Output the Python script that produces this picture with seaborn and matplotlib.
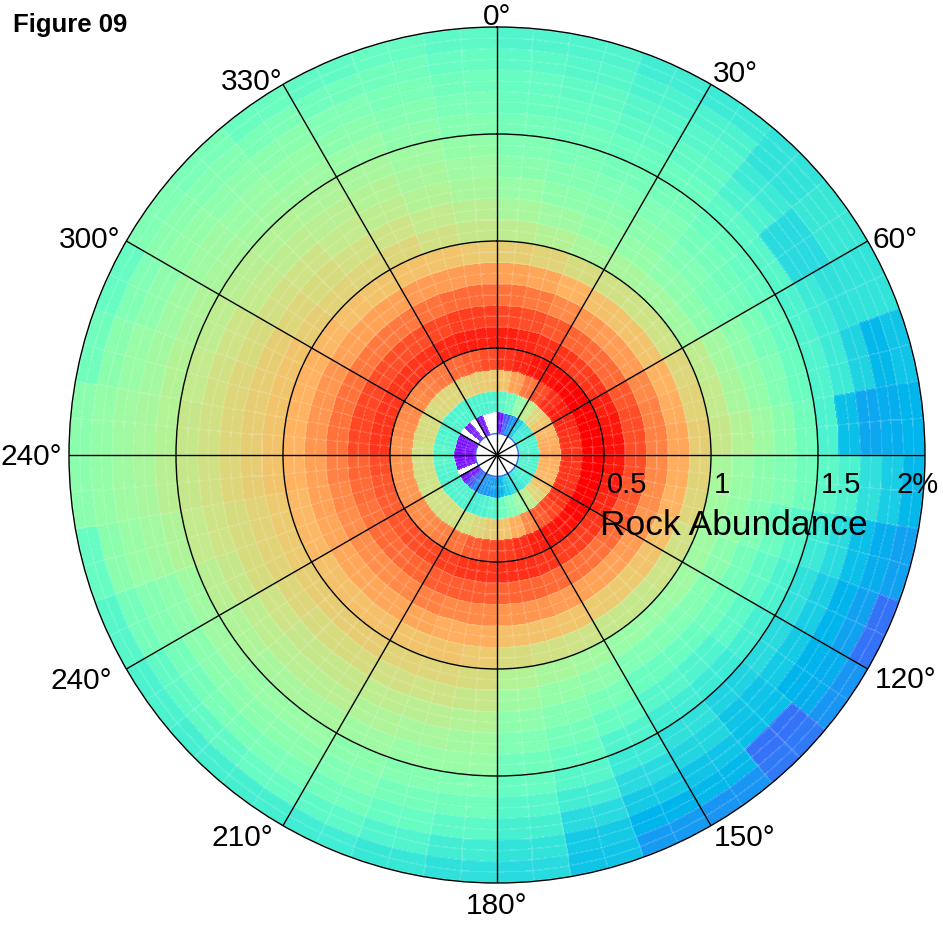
import numpy as np
import matplotlib
matplotlib.use("Agg")
import matplotlib.pyplot as plt
import seaborn as sns

nan = np.nan

# azimuth sectors (deg, clockwise from north) and rock abundance rings (%)
azimuth_edges = list(range(0, 361, 10))
abundance_edges = [round(0.1 * i, 1) for i in range(21)]

# relative frequency per cell, one list per 10 deg sector, rings 0-0.1 ... 1.9-2.0
sector_values = [
    [nan, 0.03, 0.42, 0.72, 0.93, 0.96, 0.91, 0.85, 0.78, 0.70, 0.62, 0.58, 0.55, 0.52, 0.50, 0.48, 0.46, 0.45, 0.43, 0.41],
    [nan, 0.12, 0.46, 0.78, 0.95, 0.95, 0.90, 0.84, 0.77, 0.69, 0.60, 0.56, 0.53, 0.51, 0.49, 0.47, 0.45, 0.44, 0.42, 0.41],
    [nan, 0.20, 0.55, 0.84, 0.97, 0.94, 0.89, 0.82, 0.75, 0.67, 0.58, 0.54, 0.52, 0.50, 0.48, 0.46, 0.44, 0.42, 0.40, 0.38],
    [nan, 0.30, 0.62, 0.90, 0.98, 0.93, 0.87, 0.80, 0.73, 0.66, 0.58, 0.54, 0.52, 0.50, 0.48, 0.46, 0.44, 0.42, 0.40, 0.37],
    [nan, 0.36, 0.68, 0.94, 0.99, 0.92, 0.86, 0.79, 0.72, 0.65, 0.57, 0.53, 0.50, 0.48, 0.46, 0.43, 0.40, 0.37, 0.35, 0.35],
    [nan, 0.38, 0.72, 0.96, 1.00, 0.93, 0.86, 0.79, 0.72, 0.65, 0.56, 0.52, 0.49, 0.47, 0.45, 0.42, 0.33, 0.33, 0.36, 0.36],
    [nan, 0.40, 0.74, 0.95, 1.00, 0.96, 0.89, 0.82, 0.75, 0.68, 0.62, 0.57, 0.53, 0.49, 0.45, 0.40, 0.37, 0.34, 0.35, 0.35],
    [nan, 0.40, 0.76, 0.94, 1.00, 0.97, 0.90, 0.83, 0.76, 0.69, 0.63, 0.58, 0.54, 0.50, 0.46, 0.41, 0.37, 0.31, 0.26, 0.28],
    [nan, 0.40, 0.77, 0.93, 1.00, 0.98, 0.90, 0.83, 0.77, 0.70, 0.64, 0.60, 0.56, 0.52, 0.47, 0.40, 0.27, 0.23, 0.24, 0.25],
    [nan, 0.40, 0.76, 0.93, 1.00, 0.97, 0.90, 0.82, 0.76, 0.69, 0.58, 0.55, 0.52, 0.50, 0.47, 0.43, 0.40, 0.34, 0.30, 0.26],
    [nan, 0.40, 0.75, 0.93, 1.00, 0.96, 0.89, 0.81, 0.75, 0.68, 0.57, 0.54, 0.50, 0.46, 0.42, 0.37, 0.33, 0.27, 0.24, 0.22],
    [nan, 0.40, 0.74, 0.94, 1.00, 0.95, 0.88, 0.80, 0.73, 0.66, 0.56, 0.52, 0.48, 0.44, 0.40, 0.34, 0.30, 0.25, 0.22, 0.15],
    [nan, 0.40, 0.72, 0.93, 0.99, 0.93, 0.86, 0.79, 0.72, 0.65, 0.56, 0.51, 0.47, 0.43, 0.39, 0.33, 0.29, 0.25, 0.24, 0.20],
    [nan, 0.38, 0.68, 0.91, 0.98, 0.92, 0.85, 0.78, 0.71, 0.64, 0.55, 0.50, 0.46, 0.41, 0.37, 0.31, 0.28, 0.27, 0.15, 0.16],
    [nan, 0.36, 0.62, 0.88, 0.97, 0.92, 0.85, 0.78, 0.71, 0.64, 0.55, 0.50, 0.46, 0.42, 0.38, 0.34, 0.32, 0.28, 0.26, 0.20],
    [nan, 0.33, 0.55, 0.82, 0.96, 0.93, 0.86, 0.79, 0.72, 0.65, 0.57, 0.53, 0.49, 0.45, 0.41, 0.37, 0.33, 0.29, 0.25, 0.21],
    [nan, 0.30, 0.50, 0.76, 0.94, 0.94, 0.87, 0.80, 0.73, 0.66, 0.58, 0.54, 0.51, 0.48, 0.45, 0.42, 0.38, 0.33, 0.29, 0.28],
    [nan, 0.25, 0.46, 0.72, 0.92, 0.94, 0.87, 0.80, 0.73, 0.67, 0.60, 0.56, 0.53, 0.50, 0.47, 0.45, 0.42, 0.39, 0.35, 0.33],
    [nan, 0.22, 0.42, 0.70, 0.90, 0.93, 0.88, 0.82, 0.76, 0.71, 0.67, 0.64, 0.60, 0.57, 0.55, 0.50, 0.47, 0.43, 0.38, 0.34],
    [nan, 0.20, 0.40, 0.68, 0.88, 0.93, 0.88, 0.82, 0.76, 0.72, 0.68, 0.65, 0.61, 0.58, 0.55, 0.51, 0.48, 0.45, 0.41, 0.36],
    [nan, 0.20, 0.38, 0.66, 0.85, 0.92, 0.88, 0.83, 0.77, 0.72, 0.69, 0.66, 0.62, 0.59, 0.56, 0.52, 0.50, 0.47, 0.43, 0.38],
    [nan, 0.18, 0.40, 0.66, 0.83, 0.91, 0.87, 0.82, 0.77, 0.73, 0.70, 0.67, 0.64, 0.61, 0.58, 0.55, 0.52, 0.49, 0.45, 0.39],
    [nan, 0.10, 0.40, 0.66, 0.82, 0.90, 0.86, 0.81, 0.77, 0.73, 0.70, 0.67, 0.64, 0.61, 0.58, 0.55, 0.52, 0.49, 0.44, 0.39],
    [nan, 0.03, 0.40, 0.65, 0.81, 0.89, 0.86, 0.81, 0.77, 0.73, 0.70, 0.68, 0.65, 0.62, 0.59, 0.56, 0.52, 0.48, 0.44, 0.40],
    [nan, nan, 0.40, 0.65, 0.80, 0.88, 0.85, 0.81, 0.77, 0.74, 0.71, 0.69, 0.67, 0.64, 0.61, 0.56, 0.53, 0.51, 0.48, 0.42],
    [nan, 0.02, 0.41, 0.66, 0.80, 0.89, 0.86, 0.82, 0.78, 0.74, 0.71, 0.69, 0.67, 0.65, 0.63, 0.59, 0.57, 0.55, 0.52, 0.45],
    [nan, 0.01, 0.42, 0.66, 0.80, 0.90, 0.87, 0.83, 0.78, 0.75, 0.72, 0.70, 0.68, 0.66, 0.64, 0.61, 0.58, 0.56, 0.54, 0.52],
    [nan, 0.01, 0.42, 0.66, 0.80, 0.93, 0.91, 0.85, 0.80, 0.75, 0.72, 0.70, 0.68, 0.66, 0.64, 0.60, 0.58, 0.56, 0.54, 0.52],
    [nan, 0.02, 0.41, 0.67, 0.81, 0.93, 0.91, 0.85, 0.80, 0.75, 0.72, 0.70, 0.68, 0.66, 0.63, 0.60, 0.57, 0.55, 0.52, 0.47],
    [nan, 0.02, 0.40, 0.67, 0.82, 0.93, 0.91, 0.85, 0.80, 0.75, 0.72, 0.70, 0.67, 0.65, 0.62, 0.59, 0.56, 0.53, 0.50, 0.45],
    [nan, nan, 0.40, 0.67, 0.82, 0.93, 0.90, 0.84, 0.78, 0.74, 0.70, 0.68, 0.66, 0.63, 0.61, 0.58, 0.56, 0.54, 0.52, 0.50],
    [nan, 0.03, 0.40, 0.68, 0.83, 0.93, 0.90, 0.84, 0.78, 0.73, 0.69, 0.67, 0.65, 0.62, 0.60, 0.57, 0.55, 0.53, 0.51, 0.49],
    [nan, nan, 0.40, 0.68, 0.84, 0.94, 0.90, 0.84, 0.78, 0.72, 0.68, 0.66, 0.63, 0.61, 0.59, 0.56, 0.54, 0.52, 0.49, 0.46],
    [nan, 0.03, 0.40, 0.69, 0.86, 0.95, 0.91, 0.85, 0.79, 0.73, 0.68, 0.65, 0.62, 0.60, 0.58, 0.55, 0.52, 0.50, 0.47, 0.44],
    [nan, nan, 0.40, 0.70, 0.88, 0.96, 0.92, 0.86, 0.79, 0.72, 0.66, 0.63, 0.60, 0.58, 0.56, 0.53, 0.51, 0.49, 0.47, 0.45],
    [nan, nan, 0.40, 0.71, 0.90, 0.96, 0.92, 0.86, 0.79, 0.71, 0.64, 0.61, 0.58, 0.56, 0.54, 0.51, 0.49, 0.47, 0.45, 0.43],
]

angle_ticks = [0, 30, 60, 120, 150, 180, 210, 240, 270, 300, 330]
angle_labels = ["0°", "30°", "60°", "120°", "150°", "180°", "210°", "240°", "240°", "300°", "330°"]
radius_ticks = [0.5, 1, 1.5, 2]
radius_labels = ["0.5", "1", "1.5", "2%"]

sns.set_style("white")
plt.rcParams["font.family"] = ["Liberation Sans", "DejaVu Sans"]
plt.rcParams["text.color"] = "black"

fig = plt.figure(figsize=(9.43, 9.25), dpi=100)
ax = fig.add_axes([69 / 943, 42 / 925, 856 / 943, 856 / 925], projection="polar")
ax.set_theta_zero_location("N")
ax.set_theta_direction(-1)
ax.set_axisbelow(False)

grid = np.array(sector_values).T  # rings x sectors
# split every cell in two each way so the arcs stay round (same values)
grid2 = np.repeat(np.repeat(grid, 2, axis=0), 2, axis=1)
th_edges = np.deg2rad(np.linspace(azimuth_edges[0], azimuth_edges[-1], 2 * (len(azimuth_edges) - 1) + 1))
r_edges = np.linspace(abundance_edges[0], abundance_edges[-1], 2 * (len(abundance_edges) - 1) + 1)

cmap = sns.color_palette("rainbow", as_cmap=True)
ax.pcolormesh(th_edges, r_edges, grid2, cmap=cmap, vmin=0, vmax=1, shading="flat",
              edgecolors=(1, 1, 1, 0.12), linewidth=0.3, zorder=1)

# thin blue rim around the empty core
core = np.linspace(0, 2 * np.pi, 200)
ax.plot(core, np.full_like(core, abundance_edges[1]), color="#3a6ef5", lw=1.0, zorder=1.2)

ax.set_ylim(0, 2)
ax.set_yticks(radius_ticks[:-1])
ax.set_yticklabels([])
ax.set_xticks(np.deg2rad(list(range(0, 360, 30))))
ax.set_xticklabels([])
ax.grid(True, color="black", linewidth=1.0)
ax.spines["polar"].set_color("black")
ax.spines["polar"].set_linewidth(1.0)

# angle labels around the rim (pixel nudges from the rim point)
label_nudge = {0: (0, 2, "center"), 30: (2, 2, "left"), 60: (5, -7, "left"),
               120: (7, -19, "left"), 150: (3, -20, "left"), 180: (0, -31, "center"),
               210: (-10, -20, "right"), 240: (-14, -20, "right"), 270: (-7, -10, "right"),
               300: (-6, -7, "right"), 330: (-1, -6, "right")}
for a, lab in zip(angle_ticks, angle_labels):
    dx, dy, ha = label_nudge[a]
    ax.annotate(lab, xy=(np.deg2rad(a), 2), xytext=(dx, dy), textcoords="offset pixels",
                ha=ha, va="baseline", fontsize=21.5, annotation_clip=False)

# radial labels along the east axis
for r, lab in zip(radius_ticks, radius_labels):
    if lab.endswith("%"):
        ax.annotate(lab, xy=(np.pi / 2, r), xytext=(14, -38), textcoords="offset pixels",
                    ha="right", va="baseline", fontsize=21, annotation_clip=False)
    else:
        ax.annotate(lab, xy=(np.pi / 2, r), xytext=(3, -38), textcoords="offset pixels",
                    ha="left", va="baseline", fontsize=21, annotation_clip=False)

fig.text(600 / 943, 1 - 535 / 925, "Rock Abundance", fontsize=25.5, ha="left", va="baseline")
fig.text(13 / 943, 1 - 32 / 925, "Figure 09", fontsize=18.5, fontweight="bold", ha="left", va="baseline")

fig.savefig("out.png", dpi=100)
